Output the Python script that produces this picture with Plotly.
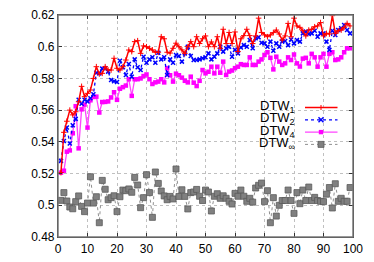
import plotly.graph_objects as go

x_vals = list(range(1, 100))

dtw1 = [0.5206, 0.546, 0.553, 0.560, 0.557, 0.559, 0.5653, 0.575, 0.5685, 0.5706,
        0.5727, 0.580, 0.5874, 0.5828, 0.5832, 0.5874, 0.5853, 0.5853, 0.5927, 0.5864,
        0.5853, 0.5874, 0.5916, 0.5979, 0.5969, 0.6032, 0.6038, 0.5958, 0.6005, 0.600,
        0.599, 0.598, 0.5965, 0.5965, 0.6063, 0.605, 0.5965, 0.596, 0.599, 0.6022,
        0.600, 0.598, 0.5958, 0.600, 0.6032, 0.600, 0.6063, 0.602, 0.605, 0.6068,
        0.600, 0.603, 0.600, 0.6063, 0.599, 0.611, 0.602, 0.609, 0.602, 0.6093,
        0.597, 0.605, 0.607, 0.611, 0.607, 0.602, 0.6068, 0.618, 0.609, 0.6074,
        0.6063, 0.6074, 0.6089, 0.6105, 0.608, 0.6042, 0.6068, 0.6147, 0.6063, 0.618,
        0.6131, 0.6122, 0.6101, 0.6068, 0.6105, 0.611, 0.6126, 0.6131, 0.6152, 0.6068,
        0.6084, 0.608, 0.6196, 0.6084, 0.6101, 0.6105, 0.6122, 0.6147, 0.6131]

dtw2 = [0.528, 0.5405, 0.549, 0.539, 0.5505, 0.5545, 0.5665, 0.564, 0.5665, 0.5655,
        0.5675, 0.570, 0.5836, 0.5832, 0.5862, 0.5864, 0.5843, 0.579, 0.5782, 0.5777,
        0.5912, 0.587, 0.5822, 0.5891, 0.5811, 0.592, 0.587, 0.5853, 0.5937, 0.5899,
        0.592, 0.5933, 0.5899, 0.5962, 0.592, 0.5933, 0.5822, 0.592, 0.5899, 0.5948,
        0.5941, 0.5906, 0.5958, 0.600, 0.5941, 0.5916, 0.5916, 0.592, 0.5927, 0.5933,
        0.5958, 0.592, 0.5937, 0.5958, 0.600, 0.5969, 0.599, 0.600, 0.5937, 0.598,
        0.5958, 0.5995, 0.601, 0.600, 0.6042, 0.599, 0.6053, 0.606, 0.6025, 0.6021,
        0.600, 0.6032, 0.5975, 0.6021, 0.600, 0.6032, 0.6036, 0.601, 0.6046, 0.6021,
        0.6042, 0.6032, 0.6084, 0.6095, 0.608, 0.6084, 0.6101, 0.6063, 0.6084, 0.6084,
        0.6032, 0.598, 0.6101, 0.6074, 0.6105, 0.6116, 0.6137, 0.6105, 0.6084]

dtw4 = [0.5206, 0.5218, 0.5338, 0.5346, 0.5454, 0.5625, 0.5359, 0.5605, 0.5635, 0.549,
        0.5662, 0.5683, 0.5685, 0.5585, 0.5651, 0.5652, 0.5655, 0.568, 0.5713, 0.5665,
        0.5735, 0.5745, 0.5755, 0.5795, 0.569, 0.5795, 0.5795, 0.580, 0.5815, 0.5825,
        0.5795, 0.5765, 0.5775, 0.578, 0.5795, 0.5775, 0.5865, 0.582, 0.578, 0.583,
        0.582, 0.5805, 0.5785, 0.5775, 0.5811, 0.5773, 0.5752, 0.5785, 0.5853, 0.5832,
        0.5842, 0.5874, 0.5832, 0.5874, 0.5836, 0.5906, 0.5822, 0.5843, 0.585, 0.5865,
        0.5874, 0.589, 0.5885, 0.5885, 0.5933, 0.5885, 0.5885, 0.5906, 0.592, 0.5948,
        0.5965, 0.593, 0.5857, 0.5937, 0.5906, 0.5885, 0.5895, 0.5933, 0.5916, 0.5951,
        0.5895, 0.5875, 0.5925, 0.593, 0.5895, 0.5955, 0.5933, 0.5874, 0.5933, 0.5955,
        0.5874, 0.5955, 0.5965, 0.5916, 0.592, 0.5933, 0.5965, 0.599, 0.599]

dtw_inf = [0.5031, 0.508, 0.5027, 0.4989, 0.4978, 0.5023, 0.5059, 0.4993, 0.496, 0.5014,
           0.518, 0.5014, 0.5054, 0.489, 0.5157, 0.5101, 0.5035, 0.5048, 0.506, 0.496,
           0.5054, 0.5096, 0.5092, 0.5103, 0.5082, 0.5176, 0.5128, 0.4985, 0.5048, 0.5193,
           0.508, 0.4924, 0.521, 0.5138, 0.509, 0.5059, 0.5035, 0.5056, 0.504, 0.5229,
           0.5056, 0.5098, 0.5056, 0.4977, 0.508, 0.5084, 0.510, 0.5057, 0.503, 0.5096,
           0.5084, 0.4964, 0.5057, 0.5073, 0.5044, 0.506, 0.5044, 0.5025, 0.5008, 0.5075,
           0.5057, 0.5096, 0.5057, 0.5025, 0.5044, 0.502, 0.5109, 0.5126, 0.514, 0.5023,
           0.5092, 0.489, 0.5048, 0.4932, 0.500, 0.503, 0.503, 0.5096, 0.503, 0.4949,
           0.508, 0.501, 0.5096, 0.503, 0.5115, 0.503, 0.505, 0.503, 0.5025, 0.5023,
           0.507, 0.5112, 0.4983, 0.5136, 0.5025, 0.5044, 0.5025, 0.5025, 0.5112]

x_ticks = list(range(0, 101, 10))
y_ticks = [0.48, 0.50, 0.52, 0.54, 0.56, 0.58, 0.60, 0.62]
y_tick_text = ["0.48", "0.5", "0.52", "0.54", "0.56", "0.58", "0.6", "0.62"]

names = ["DTW<sub>1</sub>", "DTW<sub>2</sub>", "DTW<sub>4</sub>", "DTW<sub>\u221e</sub>"]

RED = "#ff0000"
BLUE = "#0000ff"
MAG = "#ff00ff"
GRAY = "#808080"

fig = go.Figure()
fig.add_trace(go.Scatter(x=x_vals, y=dtw_inf, mode="lines+markers",
                         line=dict(color="#909090", width=1, dash="dot"),
                         marker=dict(symbol="square", size=6, color=GRAY,
                                     line=dict(color="#5a5a5a", width=0.8))))
fig.add_trace(go.Scatter(x=x_vals, y=dtw4, mode="lines+markers",
                         line=dict(color="#ff44ff", width=1.3),
                         marker=dict(symbol="square", size=4.5, color=MAG, line=dict(width=0))))
fig.add_trace(go.Scatter(x=x_vals, y=dtw2, mode="lines+markers",
                         line=dict(color=BLUE, width=1.3, dash="dot"),
                         marker=dict(symbol="x-thin", size=4, color=BLUE,
                                     line=dict(color=BLUE, width=1.5))))
fig.add_trace(go.Scatter(x=x_vals, y=dtw1, mode="lines+markers",
                         line=dict(color=RED, width=1.5),
                         marker=dict(symbol="cross-thin", size=4, color=RED,
                                     line=dict(color=RED, width=1))))

# page body has an 8px margin, so the figure is shrunk and shifted to compensate
OFF = 8
FIG_W, FIG_H = 374 - 2 * OFF, 262 - 2 * OFF
# plot area in page pixels
L, R, T, B = 58, 353, 15, 237
W, H = R - L, B - T

def px(xp):
    return (xp - L) / W

def py(yp):
    return (B - yp) / H

shapes = []
annotations = []
leg_y = [107.5, 119.8, 132.1, 144.4]
styles = [
    dict(color=RED, width=1.5, dash="solid"),
    dict(color=BLUE, width=1.3, dash="dot"),
    dict(color="#ff44ff", width=1.3, dash="solid"),
    dict(color="#909090", width=1, dash="dot"),
]
x_a, x_b, x_m = 305, 337.5, 321
for i, yv in enumerate(leg_y):
    shapes.append(dict(type="line", xref="paper", yref="paper",
                       x0=px(x_a), x1=px(x_b), y0=py(yv), y1=py(yv), line=styles[i]))
    annotations.append(dict(xref="paper", yref="paper", x=px(297), y=py(yv - 1),
                            xanchor="right", yanchor="middle", showarrow=False,
                            text=names[i], font=dict(size=13, color="#000000",
                                                     family="Liberation Sans, Arial")))
# legend markers
d = 2.5
shapes.append(dict(type="line", xref="paper", yref="paper", x0=px(x_m - d), x1=px(x_m + d),
                   y0=py(leg_y[0]), y1=py(leg_y[0]), line=dict(color=RED, width=1)))
shapes.append(dict(type="line", xref="paper", yref="paper", x0=px(x_m), x1=px(x_m),
                   y0=py(leg_y[0] - d), y1=py(leg_y[0] + d), line=dict(color=RED, width=1)))
shapes.append(dict(type="line", xref="paper", yref="paper", x0=px(x_m - d), x1=px(x_m + d),
                   y0=py(leg_y[1] - d), y1=py(leg_y[1] + d), line=dict(color=BLUE, width=1.5)))
shapes.append(dict(type="line", xref="paper", yref="paper", x0=px(x_m - d), x1=px(x_m + d),
                   y0=py(leg_y[1] + d), y1=py(leg_y[1] - d), line=dict(color=BLUE, width=1.5)))
shapes.append(dict(type="rect", xref="paper", yref="paper", x0=px(x_m - 2.2), x1=px(x_m + 2.2),
                   y0=py(leg_y[2] - 2.2), y1=py(leg_y[2] + 2.2), fillcolor=MAG,
                   line=dict(width=0)))
shapes.append(dict(type="rect", xref="paper", yref="paper", x0=px(x_m - 3), x1=px(x_m + 3),
                   y0=py(leg_y[3] - 3), y1=py(leg_y[3] + 3), fillcolor=GRAY,
                   line=dict(color="#5a5a5a", width=0.8)))
# frame
shapes.append(dict(type="rect", xref="paper", yref="paper", x0=0, x1=1, y0=0, y1=1,
                   line=dict(color="#7a7a7a", width=1.5), layer="above"))

fig.update_layout(
    width=FIG_W, height=FIG_H,
    margin=dict(l=L - OFF, r=FIG_W - (R - OFF), t=T - OFF, b=FIG_H - (B - OFF),
                autoexpand=False),
    paper_bgcolor="white", plot_bgcolor="white",
    showlegend=False,
    font=dict(family="Liberation Sans, Arial", size=12, color="#000000"),
    shapes=shapes, annotations=annotations,
)
fig.update_xaxes(range=[0, 100], tickvals=x_ticks, ticks="inside", ticklen=4,
                 tickcolor="#333333", showline=True, linecolor="#222222", linewidth=1.2,
                 mirror="ticks", showgrid=True, gridcolor="#c0c0c0", griddash="dot",
                 gridwidth=1, zeroline=False)
fig.update_yaxes(range=[0.48, 0.62], tickvals=y_ticks, ticktext=y_tick_text, ticks="inside",
                 ticklen=4, tickcolor="#333333", showline=True, linecolor="#222222",
                 linewidth=1.2, mirror="ticks", showgrid=True, gridcolor="#c0c0c0",
                 griddash="dot", gridwidth=1, zeroline=False)

fig.write_html("out.html")
